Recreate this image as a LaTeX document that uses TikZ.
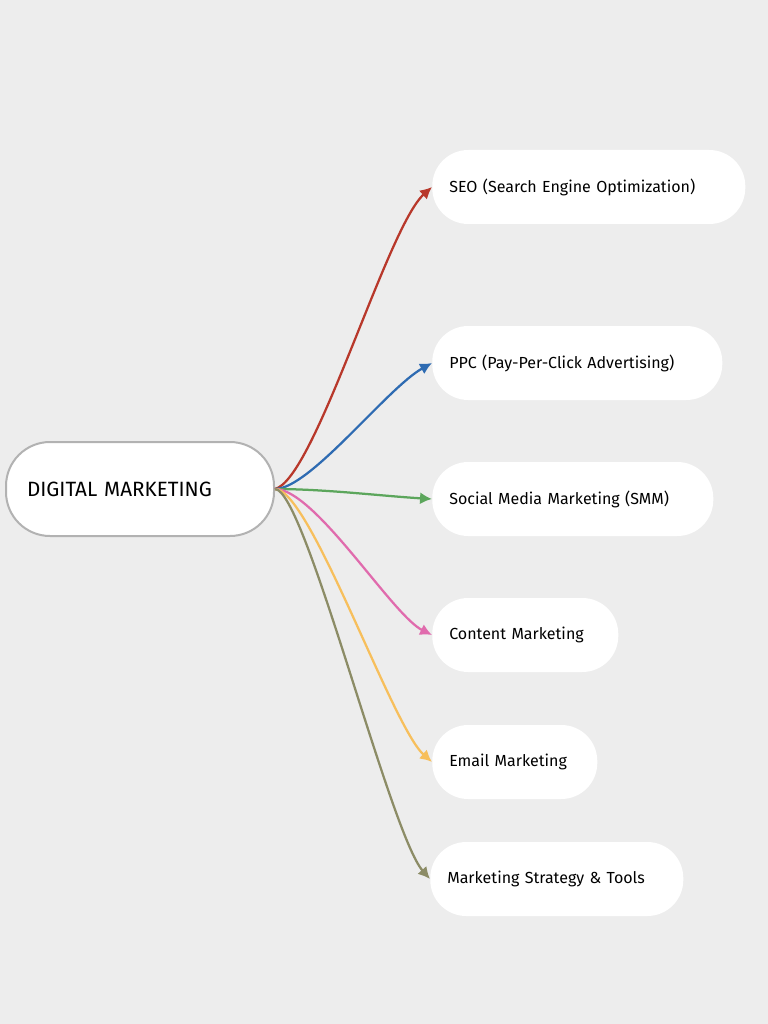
\documentclass[tikz,border=0pt]{standalone}
\usepackage{fontspec}
\setmainfont{Fira Sans}
\usetikzlibrary{arrows.meta}

\newlength\pxu
\setlength\pxu{0.025cm}

\begin{document}
\begin{tikzpicture}[>={Latex[length=8.5pt,width=8.5pt]},x=0.025cm,y=-0.025cm]

\definecolor{paper}{rgb}{0.93,0.93,0.93}
\definecolor{seored}{rgb}{0.72,0.22,0.17}
\definecolor{ppcblue}{rgb}{0.18,0.42,0.70}
\definecolor{smmgreen}{rgb}{0.36,0.65,0.36}
\definecolor{cpink}{rgb}{0.88,0.42,0.68}
\definecolor{mailyellow}{rgb}{0.97,0.75,0.36}
\definecolor{toololive}{rgb}{0.55,0.55,0.40}

\tikzset{
  root/.style={draw=gray!60,line width=2\pxu,fill=white,rounded corners=44\pxu,
    minimum height=94\pxu,inner xsep=21\pxu,align=left,anchor=west,
    font=\fontsize{14.7}{17}\selectfont},
  leaf/.style={fill=white,rounded corners=36\pxu,minimum height=74\pxu,
    inner xsep=17\pxu,align=left,anchor=west,font=\fontsize{11.4}{14}\selectfont},
  link/.style={->,line width=1.6pt,color=#1}
}

\fill[color=paper] (0,0) rectangle (768,1024);
\useasboundingbox (0,0) rectangle (768,1024);

\node[root,text width=226\pxu] (dm) at (5,489) {DIGITAL MARKETING};

\node[leaf,text width=279\pxu] (seo) at (432,187) {SEO (Search Engine Optimization)};
\node[leaf,text width=256\pxu] (ppc) at (432,363) {PPC (Pay-Per-Click Advertising)};
\node[leaf,text width=247\pxu] (smm) at (432,499) {Social Media Marketing (SMM)};
\node[leaf,text width=152\pxu] (cm) at (432,635) {Content Marketing};
\node[leaf,text width=131\pxu] (em) at (432,762) {Email Marketing};
\node[leaf,text width=219\pxu] (mst) at (430,879) {Marketing Strategy \& Tools};

\draw[link=seored] (dm.east) .. controls +(40,-10) and +(-45,40) .. (seo.west);
\draw[link=ppcblue] (dm.east) .. controls +(35,0) and +(-45,25) .. (ppc.west);
\draw[link=smmgreen] (dm.east) .. controls +(50,0) and +(-50,-3) .. (smm.west);
\draw[link=cpink] (dm.east) .. controls +(40,0) and +(-40,-20) .. (cm.west);
\draw[link=mailyellow] (dm.east) .. controls +(35,0) and +(-40,-35) .. (em.west);
\draw[link=toololive] (dm.east) .. controls +(30,0) and +(-40,-45) .. (mst.west);

\end{tikzpicture}
\end{document}
